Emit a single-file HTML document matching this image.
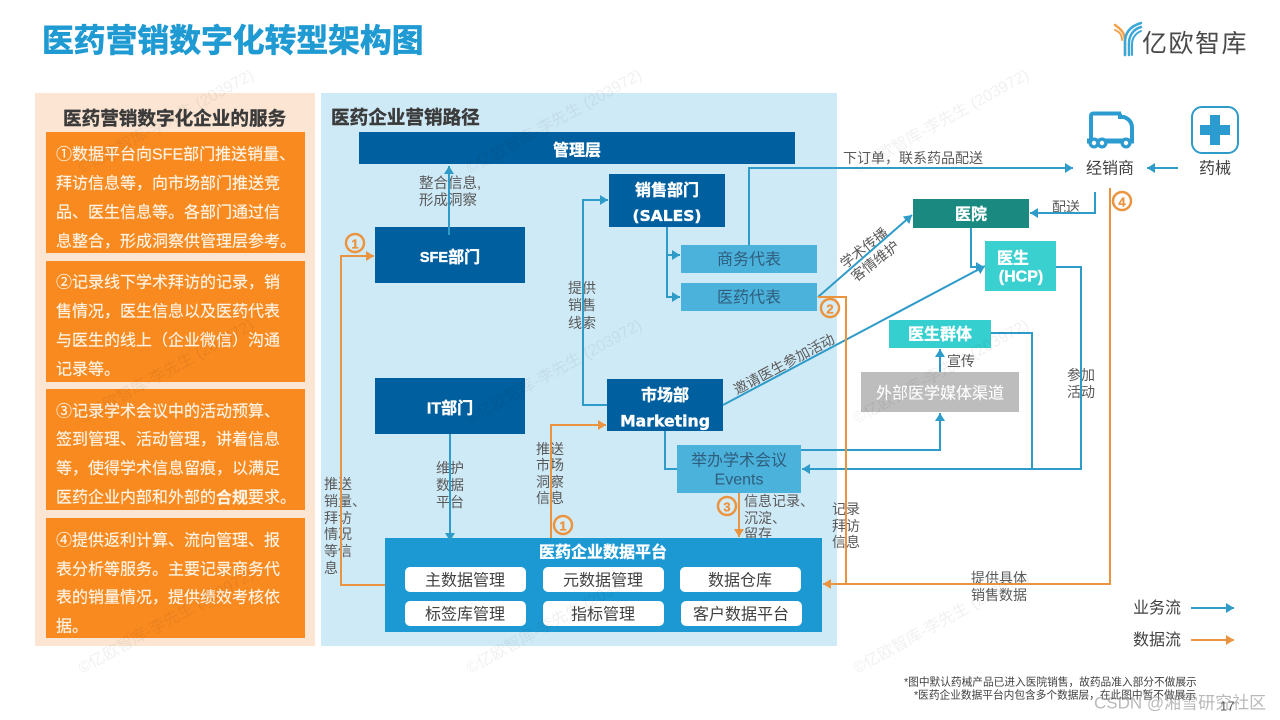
<!DOCTYPE html>
<html lang="zh"><head><meta charset="utf-8"><title>医药营销数字化转型架构图</title>
<style>
html,body{margin:0;padding:0;background:#fff;width:1280px;height:720px;overflow:hidden}
svg{display:block;font-family:"Liberation Sans","Noto Sans CJK SC",sans-serif}
text{dominant-baseline:central}
.h{font-size:18.6px;font-weight:700;fill:#3b3b3b;stroke:#3b3b3b;stroke-width:.4}
.b{font-size:16px;fill:#fff4e6;stroke:#fff4e6;stroke-width:.15}
.w{fill:#fff;stroke:#fff;stroke-width:.35;font-weight:700;font-size:16px;text-anchor:middle}
.l{font-size:14px;fill:#595959}
.c{font-size:16px;fill:#404040;text-anchor:middle}
.m{font-size:16px;fill:#2f5d7c;text-anchor:middle}
.bl{fill:none;stroke:#2f9bc9;stroke-width:2}
.or{fill:none;stroke:#ea9440;stroke-width:2}
.cn{fill:#fff;fill-opacity:.15;stroke:#ea9440;stroke-width:2.5}
.ct{font-size:13px;font-weight:700;fill:#ea9440;stroke:#ea9440;stroke-width:.3;text-anchor:middle}
.wm{font-size:16px;fill:#000;fill-opacity:.06}
</style></head><body>
<svg width="1280" height="720" viewBox="0 0 1280 720" xmlns="http://www.w3.org/2000/svg">
<defs>
<marker id="ab" markerUnits="userSpaceOnUse" markerWidth="10" markerHeight="10" refX="8" refY="5" orient="auto"><path d="M0 0L8 5L0 10Z" fill="#2f9bc9"/></marker>
<marker id="ao" markerUnits="userSpaceOnUse" markerWidth="10" markerHeight="10" refX="8" refY="5" orient="auto"><path d="M0 0L8 5L0 10Z" fill="#ea9440"/></marker>
</defs>

<text x="42" y="40.5" font-size="31.8" font-weight="700" fill="#1f9ad2" stroke="#1f9ad2" stroke-width=".7">医药营销数字化转型架构图</text>

<!-- logo -->
<g fill="none" stroke-linecap="round">
<path d="M1125 55V42C1125 33 1122 30 1115 25" stroke="#f2a04a" stroke-width="2.5"/>
<path d="M1125 55V42C1125 32 1131 26 1141 23" stroke="#3ba7d8" stroke-width="2.5"/>
<path d="M1129 55V43C1129 35 1134 29 1141 27" stroke="#3ba7d8" stroke-width="2.5"/>
<path d="M1132 55V44C1132 38 1136 33 1141 31" stroke="#3ba7d8" stroke-width="2"/>
<path d="M1115 30C1120 32 1122 35 1122 40" stroke="#f2a04a" stroke-width="2"/>
</g>
<text x="1142" y="44" font-size="25" fill="#4a4a4a" letter-spacing="1.5">亿欧智库</text>

<!-- panels -->
<rect x="35" y="93" width="280" height="553" fill="#fce6d3"/>
<rect x="321" y="93" width="516" height="553" fill="#cfeaf7"/>

<text x="63" y="118.5" class="h">医药营销数字化企业的服务</text>
<rect x="46" y="132" width="259" height="121" fill="#f98a20"/>
<rect x="46" y="261" width="259" height="121" fill="#f98a20"/>
<rect x="46" y="389" width="259" height="121" fill="#f98a20"/>
<rect x="46" y="518" width="259" height="120" fill="#f98a20"/>
<g class="b">
<text x="56" y="155">①数据平台向SFE部门推送销量、</text>
<text x="56" y="184">拜访信息等，向市场部门推送竞</text>
<text x="56" y="213">品、医生信息等。各部门通过信</text>
<text x="56" y="242">息整合，形成洞察供管理层参考。</text>
<text x="56" y="283">②记录线下学术拜访的记录，销</text>
<text x="56" y="312">售情况，医生信息以及医药代表</text>
<text x="56" y="341">与医生的线上（企业微信）沟通</text>
<text x="56" y="370">记录等。</text>
<text x="56" y="412">③记录学术会议中的活动预算、</text>
<text x="56" y="440">签到管理、活动管理，讲着信息</text>
<text x="56" y="469">等，使得学术信息留痕，以满足</text>
<text x="56" y="498">医药企业内部和外部的<tspan font-weight="700">合规</tspan>要求。</text>
<text x="56" y="541">④提供返利计算、流向管理、报</text>
<text x="56" y="570">表分析等服务。主要记录商务代</text>
<text x="56" y="598">表的销量情况，提供绩效考核依</text>
<text x="56" y="627">据。</text>
</g>

<text x="331" y="117.5" class="h">医药企业营销路径</text>

<!-- labels under connectors -->
<g class="l">
<text x="419" y="184" style="font-size:14.5px">整合信息,</text>
<text x="419" y="201" style="font-size:14.5px">形成洞察</text>
<text x="568" y="288">提供</text><text x="568" y="305">销售</text><text x="568" y="323">线索</text>
<text x="324" y="484">推送</text><text x="324" y="501">销量、</text><text x="324" y="518">拜访</text><text x="324" y="534">情况</text><text x="324" y="551">等信</text><text x="324" y="568">息</text>
<text x="436" y="468">维护</text><text x="436" y="485">数据</text><text x="436" y="502">平台</text>
<text x="536" y="449">推送</text><text x="536" y="465">市场</text><text x="536" y="482">洞察</text><text x="536" y="498">信息</text>
<text x="744" y="501">信息记录、</text><text x="744" y="518">沉淀、</text><text x="744" y="534">留存</text>
<text x="832" y="509">记录</text><text x="832" y="526">拜访</text><text x="832" y="542">信息</text>
<text x="971" y="578">提供具体</text><text x="971" y="595">销售数据</text>
<text x="843" y="158">下订单，联系药品配送</text>
<text x="1052" y="207">配送</text>
<text x="947" y="361">宣传</text>
<text x="1067" y="375">参加</text><text x="1067" y="392">活动</text>
<text transform="translate(864 248) rotate(-38)" text-anchor="middle">学术传播</text>
<text transform="translate(875 261) rotate(-38)" text-anchor="middle">客情维护</text>
<text transform="translate(784 364) rotate(-28)" text-anchor="middle">邀请医生参加活动</text>
</g>

<!-- nodes -->
<rect x="359" y="132" width="436" height="32" fill="#005f9e"/>
<text x="577" y="151" class="w">管理层</text>
<rect x="375" y="227" width="150" height="56" fill="#005f9e"/>
<text x="450" y="258" class="w"><tspan font-size="14.5">SFE</tspan>部门</text>
<rect x="375" y="378" width="150" height="56" fill="#005f9e"/>
<text x="450" y="409" class="w">IT部门</text>
<rect x="609" y="174" width="116" height="53" fill="#005f9e"/>
<text x="667" y="191" class="w">销售部门</text>
<text x="667" y="216" class="w" style="font-family:'DejaVu Sans',sans-serif;font-size:15.5px">(SALES)</text>
<rect x="681" y="245" width="136" height="28" fill="#4bb2dc"/>
<text x="749" y="260" class="m">商务代表</text>
<rect x="681" y="283" width="136" height="28" fill="#4bb2dc"/>
<text x="749" y="298" class="m">医药代表</text>
<rect x="607" y="379" width="116" height="52" fill="#005f9e"/>
<text x="665" y="396" class="w">市场部</text>
<text x="665" y="421" class="w" style="font-family:'DejaVu Sans',sans-serif;font-size:15.7px">Marketing</text>
<rect x="677" y="445" width="124" height="48" fill="#4bb2dc"/>
<text x="739" y="461" class="m">举办学术会议</text>
<text x="739" y="480" class="m">Events</text>
<rect x="913" y="199" width="116" height="29" fill="#1a8a80"/>
<text x="971" y="215" class="w">医院</text>
<rect x="985" y="241" width="71" height="50" fill="#3bd0d0"/>
<text x="1013" y="259" class="w">医生</text>
<text x="1021" y="277" class="w">(HCP)</text>
<rect x="889" y="320" width="102" height="28" fill="#36cfd0"/>
<text x="940" y="335" class="w">医生群体</text>
<rect x="861" y="372" width="158" height="40" fill="#bdbdbd"/>
<text x="940" y="394" class="w" style="font-weight:400;stroke-width:.1">外部医学媒体渠道</text>

<!-- data platform -->
<rect x="385" y="538" width="437" height="94" fill="#1c99d2"/>
<text x="603" y="553" class="w">医药企业数据平台</text>
<g fill="#fff">
<rect x="405" y="567" width="121" height="25" rx="5"/><rect x="543" y="567" width="121" height="25" rx="5"/><rect x="680" y="567" width="121" height="25" rx="5"/>
<rect x="405" y="601" width="121" height="25" rx="5"/><rect x="543" y="601" width="121" height="25" rx="5"/><rect x="681" y="601" width="121" height="25" rx="5"/>
</g>
<g class="c">
<text x="465" y="581">主数据管理</text><text x="603" y="581">元数据管理</text><text x="740" y="581">数据仓库</text>
<text x="465" y="615">标签库管理</text><text x="603" y="615">指标管理</text><text x="741" y="615">客户数据平台</text>
</g>

<!-- blue connectors -->
<path class="bl" d="M449 235V166" marker-end="url(#ab)"/>
<path class="bl" d="M450 434V541" marker-end="url(#ab)"/>
<path class="bl" d="M607 405H583V200H608" marker-end="url(#ab)"/>
<path class="bl" d="M667 227V297H680" marker-end="url(#ab)"/>
<path class="bl" d="M667 255H680" marker-end="url(#ab)"/>
<path class="bl" d="M749 245V168H1073" marker-end="url(#ab)"/>
<path class="bl" d="M1178 168H1147" marker-end="url(#ab)"/>
<path class="bl" d="M1095 192V213H1030" marker-end="url(#ab)"/>
<path class="bl" d="M818 297L912 215" marker-end="url(#ab)"/>
<path class="bl" d="M723 405L985 266" marker-end="url(#ab)"/>
<path class="bl" d="M971 228V267H984" marker-end="url(#ab)"/>
<path class="bl" d="M665 431V469H677"/>
<path class="bl" d="M801 450H940V413" marker-end="url(#ab)"/>
<path class="bl" d="M1056 267H1081V469H802" marker-end="url(#ab)"/>
<path class="bl" d="M991 333H1032V469"/>
<path class="bl" d="M940 372V349" marker-end="url(#ab)"/>

<!-- orange connectors -->
<path class="or" d="M385 585H341V256H374" marker-end="url(#ao)"/>
<path class="or" d="M551 538V425H606" marker-end="url(#ao)"/>
<path class="or" d="M739 493V537" marker-end="url(#ao)"/>
<path class="or" d="M818 297H846V584"/>
<path class="or" d="M1110 188V584H823" marker-end="url(#ao)"/>

<!-- step circles -->
<circle class="cn" cx="355" cy="243" r="9"/><text class="ct" x="355" y="244">1</text>
<circle class="cn" cx="830" cy="308" r="9"/><text class="ct" x="830" y="309">2</text>
<circle class="cn" cx="727" cy="506" r="9"/><text class="ct" x="727" y="507">3</text>
<circle class="cn" cx="1122" cy="201" r="9"/><text class="ct" x="1122" y="202">4</text>
<circle class="cn" cx="563" cy="525" r="9"/><text class="ct" x="563" y="526">1</text>

<!-- truck -->
<path d="M1091 140V116Q1091 113.500 1094 113.500H1120" fill="none" stroke="#2b9bd0" stroke-width="4"/>
<path d="M1120 113.500V117H1124Q1132 120 1132 128V142" fill="none" stroke="#2b9bd0" stroke-width="4"/>
<path d="M1119 113.500H1121" stroke="#2b9bd0" stroke-width="4"/>
<path d="M1087 141H1134" stroke="#2b9bd0" stroke-width="5"/>
<g fill="#2b9bd0"><circle cx="1094" cy="143" r="5.500"/><circle cx="1102" cy="143" r="5.500"/><circle cx="1126" cy="143" r="5.500"/></g>
<g fill="#fff"><circle cx="1094" cy="143" r="2.200"/><circle cx="1102" cy="143" r="2.200"/><circle cx="1126" cy="143" r="2.200"/></g>
<text x="1110" y="169" class="c">经销商</text>

<!-- medical -->
<rect x="1192" y="107" width="46" height="46" rx="10" fill="none" stroke="#2f9bc9" stroke-width="2"/>
<path d="M1210 115H1220V125H1230V135H1220V145H1210V135H1200V125H1210Z" fill="#2b9bd0"/>
<text x="1215" y="169" class="c">药械</text>

<!-- legend -->
<text x="1133" y="608.500" class="c" style="text-anchor:start">业务流</text>
<path class="bl" d="M1191 608H1234" marker-end="url(#ab)"/>
<text x="1133" y="640.500" class="c" style="text-anchor:start">数据流</text>
<path class="or" d="M1191 640H1234" marker-end="url(#ao)"/>

<!-- footnotes -->
<text x="904" y="682.500" font-size="10.700" fill="#404040">*图中默认药械产品已进入医院销售，故药品准入部分不做展示</text>
<text x="914" y="695.500" font-size="10.700" fill="#404040">*医药企业数据平台内包含多个数据层，在此图中暂不做展示</text>
<text x="1094" y="703" font-size="17" fill="#8a8a8a" fill-opacity=".6">CSDN @湘雪研究社区</text>
<text x="1220" y="706" font-size="13" fill="#555">17</text>

<!-- watermarks -->
<g class="wm">
<text transform="translate(80 170) rotate(-29)">©亿欧智库-李先生 (203972)</text>
<text transform="translate(468 170) rotate(-29)">©亿欧智库-李先生 (203972)</text>
<text transform="translate(855 170) rotate(-29)">©亿欧智库-李先生 (203972)</text>
<text transform="translate(80 420) rotate(-29)">©亿欧智库-李先生 (203972)</text>
<text transform="translate(468 420) rotate(-29)">©亿欧智库-李先生 (203972)</text>
<text transform="translate(855 420) rotate(-29)">©亿欧智库-李先生 (203972)</text>
<text transform="translate(80 670) rotate(-29)">©亿欧智库-李先生 (203972)</text>
<text transform="translate(468 670) rotate(-29)">©亿欧智库-李先生 (203972)</text>
<text transform="translate(855 670) rotate(-29)">©亿欧智库-李先生 (203972)</text>
</g>
</svg>
</body></html>
